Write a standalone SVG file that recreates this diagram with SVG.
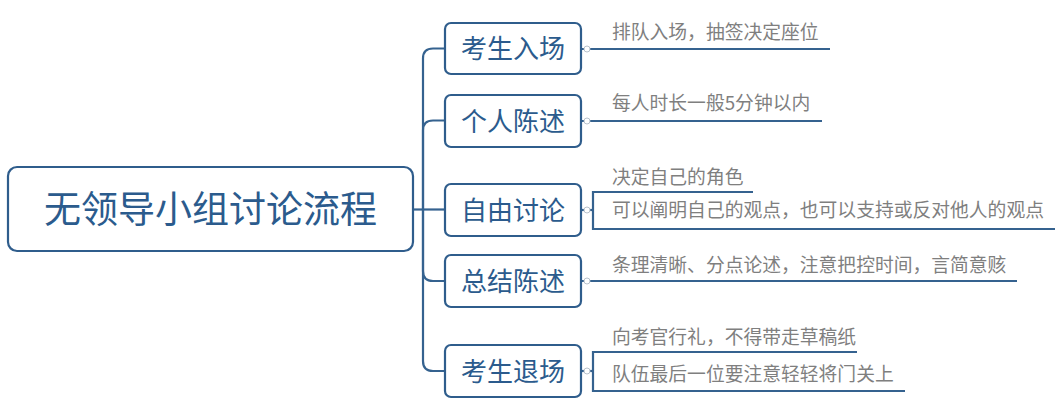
<svg xmlns="http://www.w3.org/2000/svg" width="1060" height="402" viewBox="0 0 1060 402">
<style>
.box{fill:#fff;stroke:#2f5d8c;stroke-width:2.2}
.main{font-family:"Noto Sans CJK SC","Noto Sans",sans-serif;fill:#2b5b8d;text-anchor:middle}
.leaf{font-family:"Noto Sans CJK SC","Noto Sans",sans-serif;fill:#7f7f7f;font-size:18.8px}
.ln{fill:none;stroke:#35628f;stroke-width:2.2}
.dot{fill:#fff;stroke:#b8c2cc;stroke-width:1}
</style>
<rect width="1060" height="402" fill="#fff"/>
<g id="connectors">
<path class="ln" d="M413,209.5 H445"/>
<path class="ln" d="M423,209.5 V58.5 Q423,48.5 433,48.5 H445"/>
<path class="ln" d="M423,209.5 V130.5 Q423,120.5 433,120.5 H445"/>
<path class="ln" d="M423,209.5 V271 Q423,281 433,281 H445"/>
<path class="ln" d="M423,209.5 V361 Q423,371 433,371 H445"/>
<path class="ln" d="M581,49 H830"/>
<path class="ln" d="M581,121 H822"/>
<path class="ln" d="M581,210 H593"/>
<path class="ln" d="M753,192 H593 V229 H1055"/>
<path class="ln" d="M581,281 H1017"/>
<path class="ln" d="M581,371 H593"/>
<path class="ln" d="M857,352 H593 V391 H905"/>
<circle class="dot" cx="587" cy="49" r="3"/>
<circle class="dot" cx="587" cy="121" r="3"/>
<circle class="dot" cx="587" cy="210" r="3"/>
<circle class="dot" cx="587" cy="281" r="3"/>
<circle class="dot" cx="587" cy="371" r="3"/>
</g>
<g id="root">
<rect class="box" x="8" y="167" width="405" height="84" rx="9"/>
<text class="main" x="210.5" y="223" font-size="37">无领导小组讨论流程</text>
</g>
<g id="n1">
<rect class="box" x="445" y="23" width="136" height="51" rx="6"/>
<text class="main" x="513" y="58" font-size="26">考生入场</text>
<text class="leaf" x="612" y="39">排队入场，抽签决定座位</text>
</g>
<g id="n2">
<rect class="box" x="445" y="95" width="136" height="52" rx="6"/>
<text class="main" x="513" y="130.5" font-size="26">个人陈述</text>
<text class="leaf" x="612" y="110">每人时长一般5分钟以内</text>
</g>
<g id="n3">
<rect class="box" x="445" y="184" width="136" height="52" rx="6"/>
<text class="main" x="513" y="219.5" font-size="26">自由讨论</text>
<text class="leaf" x="612" y="184">决定自己的角色</text>
<text class="leaf" x="612" y="217">可以阐明自己的观点，也可以支持或反对他人的观点</text>
</g>
<g id="n4">
<rect class="box" x="445" y="255" width="136" height="52" rx="6"/>
<text class="main" x="513" y="290.5" font-size="26">总结陈述</text>
<text class="leaf" x="612" y="272">条理清晰、分点论述，注意把控时间，言简意赅</text>
</g>
<g id="n5">
<rect class="box" x="445" y="345" width="136" height="52" rx="6"/>
<text class="main" x="513" y="380.5" font-size="26">考生退场</text>
<text class="leaf" x="612" y="344">向考官行礼，不得带走草稿纸</text>
<text class="leaf" x="612" y="381">队伍最后一位要注意轻轻将门关上</text>
</g>
</svg>
